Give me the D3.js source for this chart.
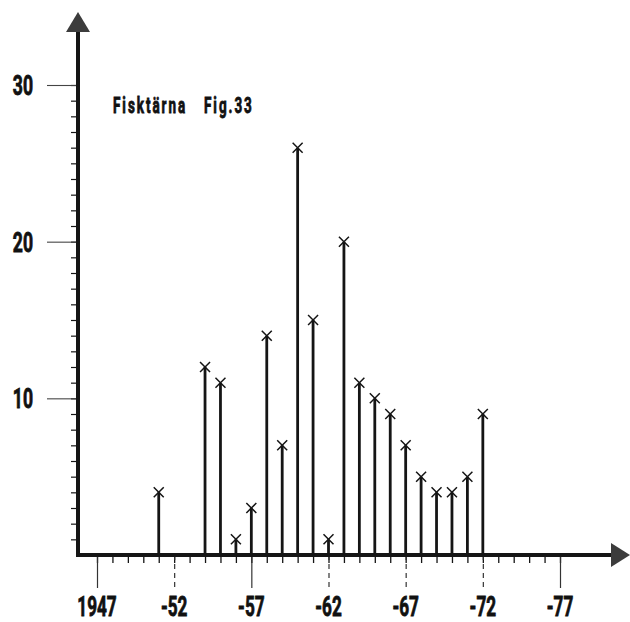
<!DOCTYPE html>
<html>
<head>
<meta charset="utf-8">
<script src="https://cdn.jsdelivr.net/npm/d3@7"></script>
<style>
  html, body { margin: 0; padding: 0; background: #fff; }
  svg { display: block; }
  .lbl { font-family: Roboto, "Liberation Sans", sans-serif; font-weight: bold; fill: #111; stroke: #111; stroke-width: 0.7; }
</style>
</head>
<body>
<svg id="chart" width="630" height="622"></svg>
<script>
// Counts per year (Fisktärna)
const years  = [1951, 1954, 1955, 1956, 1957, 1958, 1959, 1960, 1961, 1962, 1963, 1964, 1965, 1966, 1967, 1968, 1969, 1970, 1971, 1972];
const counts = [4,    12,   11,   1,    3,    14,   7,    26,   15,   1,    20,   11,   10,   9,    7,    5,    4,    4,    5,    9];

// Axis tick definitions
const xMinorTicks = d3.range(1947, 1978);
const xMajorTicks = [1947, 1952, 1957, 1962, 1967, 1972, 1977];
const xMajorLabels = ["1947", "-52", "-57", "-62", "-67", "-72", "-77"];
const yMinorTicks = d3.range(1, 31);
const yMajorTicks = [10, 20, 30];
const yMajorLabels = ["10", "20", "30"];
const titleWords = ["Fisktärna", "Fig.33"];

const svg = d3.select("#chart");
const ink = "#151515";

const x = d3.scaleLinear().domain([1947, 1977]).range([97, 560]);
const y = d3.scaleLinear().domain([0, 30]).range([555, 85]);
const axisX = 78, axisY = y(0);

// Minor ticks on the x axis
svg.append("g")
  .attr("transform", `translate(0,${axisY})`)
  .call(d3.axisBottom(x).tickValues(xMinorTicks).tickSize(8).tickFormat(""))
  .call(g => g.select(".domain").remove())
  .call(g => g.selectAll(".tick line").attr("stroke", ink).attr("stroke-width", 1.3));

// Long ticks at every fifth year
svg.append("g")
  .attr("transform", `translate(0,${axisY})`)
  .call(d3.axisBottom(x).tickValues(xMajorTicks).tickSize(33).tickFormat(""))
  .call(g => g.select(".domain").remove())
  .call(g => g.selectAll(".tick line").attr("stroke", "#333").attr("stroke-width", 1.2)
    .attr("stroke-dasharray", (d, i) => (i === 0 || i === 2 || i === 6) ? null : "5,4"));

// Minor ticks on the y axis
svg.append("g")
  .attr("transform", `translate(${axisX},0)`)
  .call(d3.axisLeft(y).tickValues(yMinorTicks).tickSize(7).tickFormat(""))
  .call(g => g.select(".domain").remove())
  .call(g => g.selectAll(".tick line").attr("stroke", ink).attr("stroke-width", 1.2));

// Long ticks at every ten
svg.append("g")
  .attr("transform", `translate(${axisX},0)`)
  .call(d3.axisLeft(y).tickValues(yMajorTicks).tickSize(31).tickFormat(""))
  .call(g => g.select(".domain").remove())
  .call(g => g.selectAll(".tick line").attr("stroke", "#444").attr("stroke-width", 1.1));

// Axes with arrowheads
svg.append("line").attr("x1", axisX).attr("x2", axisX).attr("y1", axisY + 2).attr("y2", 30)
  .attr("stroke", ink).attr("stroke-width", 4);
svg.append("line").attr("x1", axisX - 2).attr("x2", 614).attr("y1", axisY).attr("y2", axisY)
  .attr("stroke", ink).attr("stroke-width", 4);
svg.append("path").attr("d", `M${axisX},12 L${axisX - 12},32 L${axisX + 12},32 Z`).attr("fill", "#3c3c3c");
svg.append("path").attr("d", `M630,${axisY} L611,${axisY - 12} L611,${axisY + 12} Z`).attr("fill", "#3c3c3c");

// Stems
const data = years.map((yr, i) => ({ year: yr, value: counts[i] }));
svg.append("g").selectAll("line").data(data).join("line")
  .attr("x1", d => x(d.year)).attr("x2", d => x(d.year))
  .attr("y1", axisY).attr("y2", d => y(d.value))
  .attr("stroke", ink).attr("stroke-width", 2.8);

// Cross markers at the stem tops
const s = 5;
svg.append("g").selectAll("path").data(data).join("path")
  .attr("d", d => {
    const cx = x(d.year), cy = y(d.value);
    return `M${cx - s},${cy - s} L${cx + s},${cy + s} M${cx + s},${cy - s} L${cx - s},${cy + s}`;
  })
  .attr("stroke", ink).attr("stroke-width", 1.5).attr("fill", "none");

// Condensed, tall label helper
function label(txt, px, py, size, sx, sy, anchor, spacing) {
  svg.append("text").attr("class", "lbl")
    .attr("transform", `translate(${px},${py}) scale(${sx},${sy})`)
    .attr("text-anchor", anchor)
    .attr("font-size", size)
    .attr("letter-spacing", spacing || 0)
    .text(txt);
}

xMajorTicks.forEach((t, i) => label(xMajorLabels[i], x(t), 616, 22, 0.78, 1.24, "middle"));
yMajorTicks.forEach((t, i) => label(yMajorLabels[i], 33, y(t) + 10, 22, 0.8, 1.24, "end"));

// Title
label(titleWords[0], 113, 113, 18, 0.75, 1.22, "start", 2.6);
label(titleWords[1], 204, 113, 18, 0.75, 1.22, "start", 2.6);
</script>
</body>
</html>
